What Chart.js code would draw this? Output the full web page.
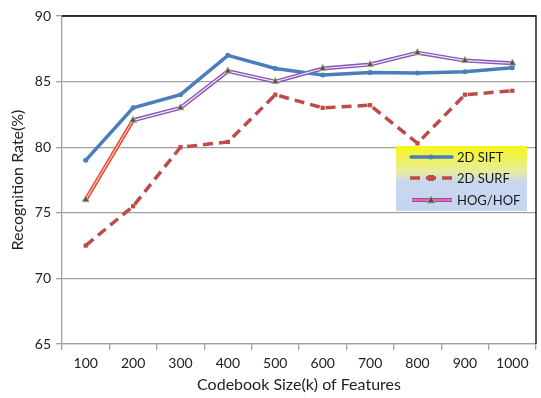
<!DOCTYPE html>
<html><head><meta charset="utf-8">
<script src="https://cdn.jsdelivr.net/npm/chart.js@4/dist/chart.umd.min.js"></script>
<style>html,body{margin:0;padding:0;background:#fff}#wrap{width:541px;height:398px}</style>
</head><body><div id="wrap"><canvas id="c" width="541" height="398"></canvas></div>
<script>
const categories = ['100','200','300','400','500','600','700','800','900','1000'];
const sift = [79, 83, 84, 87, 86, 85.5, 85.7, 85.65, 85.75, 86.05];
const surf = [72.5, 75.5, 80, 80.4, 84, 83, 83.2, 80.3, 84, 84.3];
const hog = [76, 82.05, 83, 85.8, 85, 86, 86.3, 87.2, 86.6, 86.4];
const yTicks = [65, 70, 75, 80, 85, 90];
const seriesNames = ['2D SIFT', '2D SURF', 'HOG/HOF'];

const FONT = 'Lato, "Open Sans", "Liberation Sans", sans-serif';

const frame = {
  id: 'frame',
  afterDraw(chart) {
    const {ctx, chartArea: a} = chart;
    ctx.save();
    ctx.strokeStyle = '#000'; ctx.lineWidth = 1.3;
    ctx.beginPath();
    ctx.moveTo(a.left, a.top); ctx.lineTo(a.right, a.top); ctx.lineTo(a.right, a.bottom);
    ctx.stroke();
    // legend box
    const x = 396, y = 146, w = 131, h = 65;
    const g = ctx.createLinearGradient(0, y, 0, y + h);
    g.addColorStop(0, '#f7f71a'); g.addColorStop(0.4, '#e6eca0'); g.addColorStop(0.55, '#c9d7ef'); g.addColorStop(1, '#c6d5f0');
    ctx.fillStyle = g; ctx.fillRect(x, y, w, h);
    const rows = [157, 178, 200];
    ctx.font = '13px ' + FONT; ctx.textBaseline = 'middle'; ctx.fillStyle = '#1a1a1a';
    // SIFT
    ctx.strokeStyle = '#4a7ebb'; ctx.lineWidth = 3.5; ctx.lineCap = 'round';
    ctx.beginPath(); ctx.moveTo(411, rows[0]); ctx.lineTo(452, rows[0]); ctx.stroke();
    ctx.fillStyle = '#4a7ebb'; ctx.beginPath(); ctx.arc(431, rows[0], 2.5, 0, Math.PI*2); ctx.fill();
    // SURF
    ctx.strokeStyle = '#be4b48'; ctx.lineCap = 'butt'; ctx.setLineDash([10, 6]);
    ctx.beginPath(); ctx.moveTo(410, rows[1]); ctx.lineTo(453, rows[1]); ctx.stroke();
    ctx.setLineDash([]);
    ctx.fillStyle = '#be4b48'; ctx.fillRect(428, rows[1]-3, 6, 6);
    // HOG
    ctx.strokeStyle = '#b0449a'; ctx.lineWidth = 4;
    ctx.beginPath(); ctx.moveTo(412, rows[2]); ctx.lineTo(452, rows[2]); ctx.stroke();
    ctx.strokeStyle = '#f0a0c0'; ctx.lineWidth = 1.2;
    ctx.beginPath(); ctx.moveTo(412, rows[2]); ctx.lineTo(452, rows[2]); ctx.stroke();
    ctx.fillStyle = '#6a3d8a'; ctx.strokeStyle = '#9bbb59'; ctx.lineWidth = 1;
    ctx.beginPath(); ctx.moveTo(431, rows[2]-4); ctx.lineTo(435, rows[2]+3); ctx.lineTo(427, rows[2]+3); ctx.closePath(); ctx.fill(); ctx.stroke();
    ctx.fillStyle = '#1a1a1a';
    seriesNames.forEach((n, i) => ctx.fillText(n, 457, rows[i] + 1));
    ctx.restore();
  }
};

new Chart(document.getElementById('c'), {
  type: 'line',
  data: {
    labels: categories,
    datasets: [
      {label: seriesNames[0], data: sift, borderColor: '#4a7ebb', backgroundColor: '#4a7ebb', borderWidth: 3.5,
       pointRadius: 2.5, pointStyle: 'circle', pointBorderWidth: 0, tension: 0, order: 1},
      {label: seriesNames[1], data: surf, borderColor: '#be4b48', backgroundColor: '#be4b48', borderWidth: 3.5,
       borderDash: [10, 6], pointRadius: 3, pointStyle: 'rect', pointBorderWidth: 0, tension: 0, order: 3},
      {label: seriesNames[2], data: hog, borderColor: '#8a55b8', backgroundColor: '#6a3d8a', borderWidth: 4,
       segment: {borderColor: c => c.p0DataIndex === 0 ? '#e8403a' : undefined},
       pointRadius: 0, tension: 0, order: 2},
      {label: 'hog-inner', data: hog, borderColor: '#f4eaf8', borderWidth: 1.2,
       segment: {borderColor: c => c.p0DataIndex === 0 ? '#ffd0a0' : undefined},
       pointRadius: 4, pointStyle: 'triangle', pointBackgroundColor: '#6a3d8a', pointBorderColor: '#9bbb59', pointBorderWidth: 1,
       tension: 0, order: 0}
    ]
  },
  options: {
    responsive: false, animation: false,
    layout: {padding: {left: 0, right: 2, top: 16, bottom: 0}},
    plugins: {legend: {display: false}, tooltip: {enabled: false}},
    scales: {
      x: {
        offset: true,
        grid: {offset: true, drawOnChartArea: false, color: '#a0a0a0', tickLength: 6, lineWidth: 1.3},
        border: {color: '#a0a0a0', width: 1.3},
        ticks: {color: '#222', font: {family: FONT, size: 14}, padding: 5, maxRotation: 0},
        title: {display: true, text: 'Codebook Size(k) of Features', color: '#222', font: {family: FONT, size: 16}, padding: {top: 0}},
        afterFit: s => { s.height = 54; }
      },
      y: {
        min: 65, max: 90,
        afterBuildTicks: s => { s.ticks = yTicks.map(v => ({value: v})); },
        grid: {color: '#a0a0a0', lineWidth: 1.3, tickLength: 6},
        border: {color: '#a0a0a0', width: 1.3},
        ticks: {color: '#222', font: {family: FONT, size: 14}, padding: 5},
        title: {display: true, text: 'Recognition Rate(%)', color: '#222', font: {family: FONT, size: 16}, padding: {top: 8, bottom: 0}},
        afterFit: s => { s.width = 62; }
      }
    }
  },
  plugins: [frame]
});
</script></body></html>
